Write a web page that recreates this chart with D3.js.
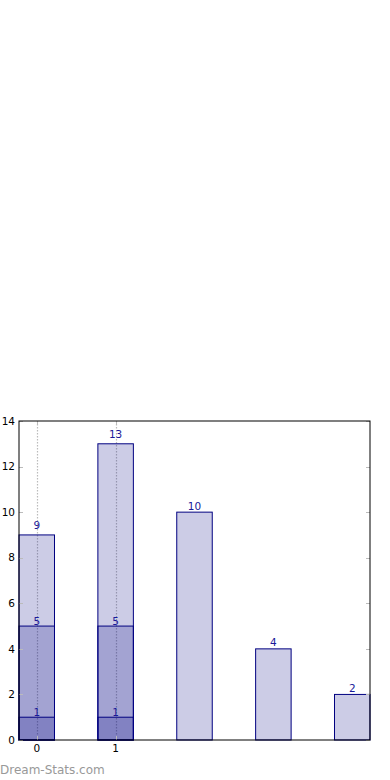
<!DOCTYPE html>
<html>
<head>
<meta charset="utf-8">
<script src="https://cdn.jsdelivr.net/npm/d3@7"></script>
<style>
  html, body { margin: 0; padding: 0; background: #fff; }
  svg { display: block; font-family: "DejaVu Sans", sans-serif; }
</style>
</head>
<body>
<div id="chart"></div>
<script>
// --- dados ---
const positions = [0, 1, 2, 3, 4];
const totalValues = [9, 13, 10, 4, 2];      // camada clara
const midValues = [5, 5, null, null, null];   // camada média
const lowValues = [1, 1, null, null, null];   // camada escura
const xTickLabels = ["0", "1"];
const yTicks = [0, 2, 4, 6, 8, 10, 12, 14];
const watermark = "Dream-Stats.com";

const W = 390, H = 780;
const margin = { left: 19, right: 20, top: 421, bottom: 40 };
const barWidth = 0.45;

const svg = d3.select("#chart").append("svg")
  .attr("width", W).attr("height", H);

const x = d3.scaleLinear()
  .domain([-barWidth / 2, 4 + barWidth / 2])
  .range([margin.left, W - margin.right]);
const y = d3.scaleLinear()
  .domain([0, 14])
  .range([H - margin.bottom, margin.top]);

const plot = svg.append("g");

// grelha vertical pontilhada (só nos ticks 0 e 1)
plot.selectAll("line.grid")
  .data([0, 1])
  .join("line")
  .attr("class", "grid")
  .attr("x1", d => Math.round(x(d)) + 0.5).attr("x2", d => Math.round(x(d)) + 0.5)
  .attr("y1", y(14)).attr("y2", y(0))
  .attr("stroke", "#bbb")
  .attr("stroke-width", 1.2)
  .attr("stroke-dasharray", "1.5,1.5");

// camadas sobrepostas, navy com alpha 0.2
const layers = [totalValues, midValues, lowValues];
layers.forEach((vals, li) => {
  const data = positions.map((p, i) => ({ p, v: vals[i], stacked: midValues[i] != null }))
    .filter(d => d.v != null);
  plot.selectAll("rect.l" + li)
    .data(data)
    .join("rect")
    .attr("class", "l" + li)
    .attr("x", d => x(d.p - barWidth / 2))
    .attr("width", d => x(barWidth) - x(0))
    .attr("y", d => y(d.v))
    .attr("height", d => y(0) - y(d.v))
    .attr("fill", "navy")
    .attr("fill-opacity", 0.2)
    .attr("stroke", "navy")
    .attr("stroke-width", 1);

  // rótulos: camada de topo das barras sobrepostas fica um pouco mais alta
  plot.selectAll("text.t" + li)
    .data(data)
    .join("text")
    .attr("class", "t" + li)
    .attr("x", d => x(d.p))
    .attr("y", d => y(d.v) - (li > 0 ? 1 : (d.stacked ? 6 : 2.5)))
    .attr("text-anchor", "middle")
    .attr("font-size", 10.5)
    .attr("fill", "#1a1a99")
    .text(d => d.v);
});

// ticks internos (cinza)
const tickLen = 4;
const x0 = x.range()[0], x1 = x.range()[1];
const yTop = y(14), yBot = y(0);
yTicks.forEach(t => {
  const yy = Math.round(y(t)) + 0.5;
  svg.append("line").attr("x1", x0).attr("x2", x0 + tickLen).attr("y1", yy).attr("y2", yy)
    .attr("stroke", "#bbb");
  svg.append("line").attr("x1", x1 - tickLen).attr("x2", x1).attr("y1", yy).attr("y2", yy)
    .attr("stroke", "#bbb");
  svg.append("text")
    .attr("x", x0 - 4).attr("y", y(t))
    .attr("dy", "0.35em")
    .attr("text-anchor", "end")
    .attr("font-size", 10.5)
    .attr("fill", "#000")
    .text(t);
});
xTickLabels.forEach((lab, i) => {
  const xx = Math.round(x(i)) + 0.5;
  svg.append("line").attr("x1", xx).attr("x2", xx).attr("y1", yBot).attr("y2", yBot - tickLen)
    .attr("stroke", "#bbb");
  svg.append("line").attr("x1", xx).attr("x2", xx).attr("y1", yTop).attr("y2", yTop + tickLen)
    .attr("stroke", "#bbb");
  svg.append("text")
    .attr("x", x(i)).attr("y", yBot + 12)
    .attr("text-anchor", "middle")
    .attr("font-size", 10.5)
    .attr("fill", "#000")
    .text(lab);
});

// moldura
svg.append("rect")
  .attr("x", x0).attr("y", yTop)
  .attr("width", x1 - x0).attr("height", yBot - yTop)
  .attr("fill", "none")
  .attr("stroke", "#000")
  .attr("stroke-width", 1);

// marca de água
svg.append("text")
  .attr("x", 0).attr("y", 774)
  .attr("font-size", 12)
  .attr("fill", "#999")
  .text(watermark);
</script>
</body>
</html>
